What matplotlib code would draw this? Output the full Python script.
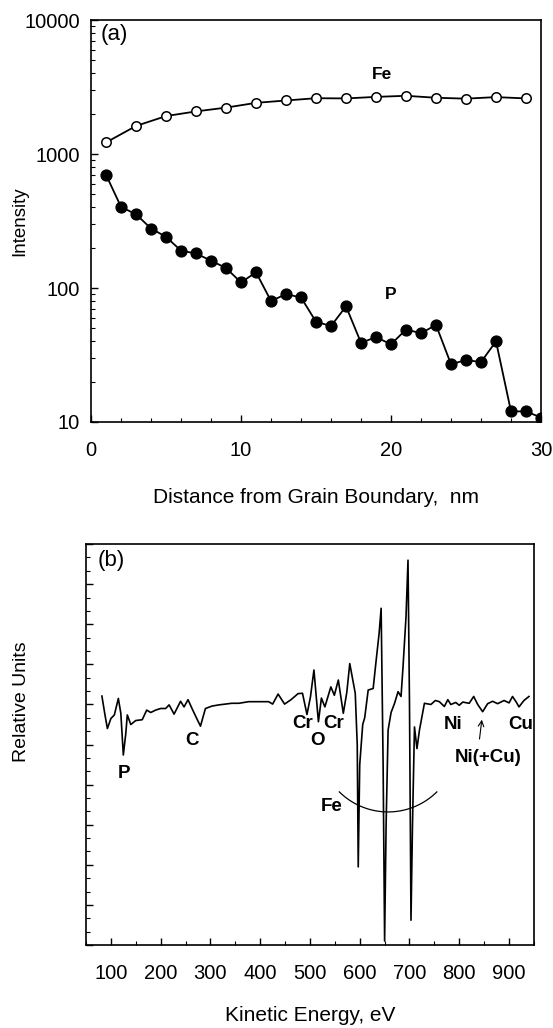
import matplotlib
matplotlib.use("Agg")
import numpy as np
import matplotlib.pyplot as plt
from matplotlib.ticker import MultipleLocator, FixedLocator, NullFormatter

plt.rcParams['font.family'] = ['Liberation Sans', 'DejaVu Sans']

# panel (a) : depth profile
fe_dist = [1, 3, 5, 7, 9, 11, 13, 15, 17, 19, 21, 23, 25, 27, 29]
fe_int = [1220, 1620, 1920, 2080, 2220, 2410, 2510, 2610, 2600, 2670, 2720, 2630, 2590, 2660, 2600]

p_dist = list(range(1, 31))
p_int = [700, 403, 355, 278, 241, 190, 181, 160, 141, 110,
         131, 80, 90, 85, 56, 52, 73, 39, 43, 38,
         49, 46, 53, 27, 29, 28, 40, 12, 12, 10.8]

# panel (b) : Auger spectrum (derivative)
energy = [82, 88, 93, 100, 107, 115, 120, 125, 130, 133,
          140, 150, 163, 172, 180, 190, 200, 210, 217, 227,
          240, 247, 255, 263, 271, 280, 290, 303, 317, 330,
          343, 357, 377, 397, 417, 425, 436, 449, 462, 476,
          485, 494, 501, 508, 517, 523, 530, 542, 549, 557,
          567, 574, 580, 591, 595, 597, 600, 606, 610, 617,
          627, 633, 639, 643, 647, 650, 653, 657, 663, 670,
          677, 683, 687, 693, 697, 700, 703, 706, 710, 715,
          720, 730, 743, 752, 760, 770, 777, 783, 793, 800,
          807, 820, 829, 837, 847, 857, 867, 877, 890, 900,
          907, 915, 920, 930, 940]
signal = [62.1, 57.5, 54.0, 56.5, 57.4, 61.5, 57.8, 47.4, 52.8, 57.4,
          55.0, 56.0, 56.2, 58.6, 58.0, 58.6, 59.0, 59.0, 59.9, 57.6,
          60.8, 59.4, 61.2, 59.0, 56.9, 54.6, 59.0, 59.6, 59.9, 60.1,
          60.3, 60.3, 60.7, 60.7, 60.7, 60.1, 62.6, 60.1, 61.2, 62.7,
          62.8, 57.5, 61.9, 68.6, 55.7, 61.6, 59.4, 64.4, 62.3, 66.1,
          57.8, 63.0, 70.2, 62.8, 50.0, 19.5, 45.0, 55.0, 56.7, 63.6,
          64.0, 71.0, 77.8, 84.0, 45.0, 1.0, 30.0, 53.6, 58.0, 60.3,
          63.2, 62.0, 69.4, 81.9, 96.0, 60.0, 6.2, 30.0, 54.4, 49.0,
          53.6, 60.3, 60.0, 61.0, 60.7, 59.5, 61.2, 60.0, 60.5, 59.8,
          60.6, 60.3, 62.0, 60.0, 58.2, 60.2, 60.8, 60.2, 61.0, 60.4,
          62.0, 60.5, 59.4, 61.0, 62.0]

peak_labels = [("P", 127, 42.8), ("C", 262, 51.1), ("Cr", 485, 55.3), ("O", 515, 51.1),
               ("Cr", 547, 55.3), ("Fe", 543, 34.5), ("Ni", 787, 55.0), ("Cu", 923, 55.0),
               ("Ni(+Cu)", 857, 46.7)]

fig = plt.figure(figsize=(5.53, 10.28), dpi=100)

#(a)
ax1 = fig.add_axes([0.1646, 0.5895, 0.8137, 0.391])
ax1.plot(fe_dist, fe_int, color="black", lw=1.3, marker="o", ms=6.8,
         mfc="white", mec="black", mew=1.1)
ax1.plot(p_dist, p_int, color="black", lw=1.3, marker="o", ms=7.8,
         mfc="black", mec="black")
ax1.set_yscale("log")
ax1.set_xlim(0, 30)
ax1.set_ylim(10, 10000)
ax1.xaxis.set_major_locator(MultipleLocator(10))
ax1.xaxis.set_minor_locator(MultipleLocator(2))
ax1.set_yticks([10, 100, 1000, 10000])
ax1.set_yticklabels(["10", "100", "1000", "10000"])
ax1.tick_params(which="both", direction="in", labelsize=14.5)
ax1.tick_params(axis="x", which="major", length=5, width=1, pad=14)
ax1.tick_params(axis="x", which="minor", length=3, width=0.8)
ax1.tick_params(axis="y", which="major", length=5, width=1, pad=8)
ax1.tick_params(axis="y", which="minor", length=3, width=0.8)
ax1.set_xlabel("Distance from Grain Boundary,  nm", fontsize=15, labelpad=20)
ax1.set_ylabel("Intensity", fontsize=13.5)
ax1.yaxis.set_label_coords(-0.14, 0.5)
ax1.text(0.022, 0.99, "(a)", transform=ax1.transAxes, fontsize=16, va="top", ha="left")
ax1.text(19.4, 3950, "Fe", fontsize=12.5, fontweight="bold", ha="center", va="center")
ax1.text(20.0, 90, "P", fontsize=12.5, fontweight="bold", ha="center", va="center")
for s in ax1.spines.values():
    s.set_linewidth(1.2)

#(b)
ax2 = fig.add_axes([0.1555, 0.0807, 0.810, 0.390])
ax2.plot(energy, signal, color="black", lw=1.2)
ax2.set_xlim(50, 950)
ax2.set_ylim(0, 100)
ax2.xaxis.set_major_locator(FixedLocator(range(100, 901, 100)))
ax2.xaxis.set_minor_locator(MultipleLocator(50))
ax2.yaxis.set_major_locator(MultipleLocator(10))
ax2.yaxis.set_minor_locator(MultipleLocator(10 / 3))
ax2.yaxis.set_major_formatter(NullFormatter())
ax2.tick_params(which="both", direction="in", labelsize=14.5)
ax2.tick_params(axis="x", which="major", length=5, width=1, pad=14)
ax2.tick_params(axis="x", which="minor", length=3, width=0.8)
ax2.tick_params(axis="y", which="major", length=5, width=1)
ax2.tick_params(axis="y", which="minor", length=3, width=0.8)
ax2.set_xlabel("Kinetic Energy, eV", fontsize=15, labelpad=16)
ax2.set_ylabel("Relative Units", fontsize=14)
ax2.yaxis.set_label_coords(-0.125, 0.606)
ax2.text(0.025, 0.985, "(b)", transform=ax2.transAxes, fontsize=16, va="top", ha="left")
for lab, x, y in peak_labels:
    ax2.text(x, y, lab, fontsize=13.5, fontweight="bold", ha="center", va="center")
ax2.annotate("", xy=(846, 56.9), xytext=(840, 50.7),
             arrowprops=dict(arrowstyle="->", color="black", lw=0.8))

# circular arc grouping the Fe peaks (circle in screen space)
t = np.radians(np.linspace(225.6, 314.4, 60))
ax2.plot(657 + 140 * np.cos(t), 50.7 + 17.5 * np.sin(t), color="black", lw=0.9)
for s in ax2.spines.values():
    s.set_linewidth(1.2)

fig.savefig("out.png", dpi=100)
